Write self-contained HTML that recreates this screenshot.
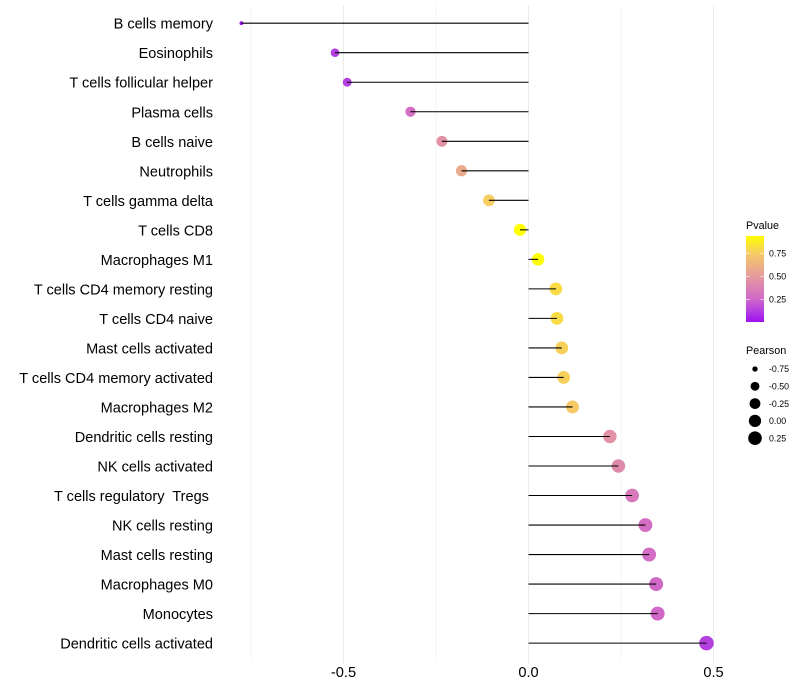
<!DOCTYPE html>
<html lang="en">
<head>
<meta charset="utf-8">
<title>Pearson lollipop chart</title>
<style>
html,body{margin:0;padding:0;background:#fff;}
svg{display:block;font-family:"Liberation Sans",sans-serif;}
</style>
</head>
<body>
<svg id="chart" width="800" height="700" viewBox="0 0 800 700" xmlns="http://www.w3.org/2000/svg">
  <defs>
    <linearGradient id="pvalue-gradient" x1="0" y1="1" x2="0" y2="0">
      <stop offset="0" stop-color="#A010F0"/>
      <stop offset="0.133" stop-color="#B540E0"/>
      <stop offset="0.266" stop-color="#D068C8"/>
      <stop offset="0.532" stop-color="#E59A9E"/>
      <stop offset="0.798" stop-color="#F6CB66"/>
      <stop offset="1" stop-color="#FFFF00"/>
    </linearGradient>
  </defs>
  <g id="grid"></g>
  <g id="marks"></g>
  <g id="y-axis"></g>
  <g id="x-axis"></g>
  <g id="legend-p">
    <text x="746" y="229" font-size="10.8" fill="#000">Pvalue</text>
    <rect x="746" y="236" width="18" height="86" fill="url(#pvalue-gradient)"/>
  </g>
  <g id="legend-s">
    <text x="746" y="354" font-size="10.8" fill="#000">Pearson</text>
  </g>
</svg>
<script>
const categories = ["B cells memory","Eosinophils","T cells follicular helper","Plasma cells","B cells naive","Neutrophils","T cells gamma delta","T cells CD8","Macrophages M1","T cells CD4 memory resting","T cells CD4 naive","Mast cells activated","T cells CD4 memory activated","Macrophages M2","Dendritic cells resting","NK cells activated","T cells regulatory  Tregs ","NK cells resting","Mast cells resting","Macrophages M0","Monocytes","Dendritic cells activated"];
const pearson = [-0.776,-0.523,-0.490,-0.319,-0.234,-0.181,-0.107,-0.023,0.026,0.074,0.077,0.090,0.095,0.119,0.220,0.243,0.280,0.316,0.326,0.345,0.349,0.481];
const pvalue = [0.001,0.125,0.125,0.29,0.46,0.58,0.76,0.94,0.94,0.81,0.81,0.77,0.77,0.74,0.46,0.42,0.34,0.28,0.27,0.25,0.25,0.125];
const xTicks = [-0.5,0.0,0.5];
const xMinorTicks = [-0.75,-0.25,0.25];
const colorTicks = [0.25,0.50,0.75];
const sizeTicks = [-0.75,-0.50,-0.25,0.00,0.25];

const svg = "http://www.w3.org/2000/svg";
const gridG = document.getElementById("grid");
const marksG = document.getElementById("marks");
const yG = document.getElementById("y-axis");
const xG = document.getElementById("x-axis");
const legP = document.getElementById("legend-p");
const legS = document.getElementById("legend-s");

function make(tag, attrs, parent, text){
  const el = document.createElementNS(svg, tag);
  for (const k in attrs) el.setAttribute(k, attrs[k]);
  if (text !== undefined) el.textContent = text;
  parent.appendChild(el);
  return el;
}
function xScale(v){ return 528.5 + v * 370; }
function yScale(i){ return 23.2 + i * 29.52; }
function colorY(p){ return 322.5 - p * 92; }
const minP = Math.min(...pearson), maxP = Math.max(...pearson);
function radius(v){
  const t = Math.max(0, (v - minP) / (maxP - minP));
  return 1.9 + 5.4 * Math.sqrt(t);
}
const colorStops = [[0,[160,16,240]],[0.125,[181,64,224]],[0.25,[208,104,200]],[0.5,[229,154,158]],[0.75,[246,203,102]],[0.94,[255,255,0]]];
function color(p){
  for (let i = 1; i < colorStops.length; i++){
    if (p <= colorStops[i][0]){
      const a = colorStops[i-1], b = colorStops[i];
      const t = Math.max(0, (p - a[0]) / (b[0] - a[0]));
      return "rgb(" + a[1].map((c, j) => Math.round(c + (b[1][j] - c) * t)).join(",") + ")";
    }
  }
  return "rgb(255,255,0)";
}

xMinorTicks.forEach(function(v){
  const g = make("line", {x1:xScale(v), x2:xScale(v), y1:5.5, y2:660.5, stroke:"#F2F2F2", "stroke-width":0.8}, gridG);
  
  
});
xTicks.forEach(function(v){
  const g = make("line", {x1:xScale(v), x2:xScale(v), y1:5.5, y2:663, stroke:"#EBEBEB", "stroke-width":1}, gridG);
  
  
  const t = make("text", {x:xScale(v), y:677, "text-anchor":"middle", "font-size":14.6, fill:"#000"}, xG, v.toFixed(1));
  
  
});

categories.forEach(function(name, i){
  const y = yScale(i), x = xScale(pearson[i]);
  const c = make("circle", {cx:x, cy:y, r:radius(pearson[i]), fill:color(pvalue[i])}, marksG);
  
  
  const l = make("line", {x1:xScale(0), x2:x, y1:y, y2:y, stroke:"#000", "stroke-width":1.07}, marksG);
  
  
  const t = make("text", {x:213, y:y + 5.5, "text-anchor":"end", "font-size":14.55, fill:"#000"}, yG, name);
  t.setAttribute("xml:space", "preserve");
  t.style.whiteSpace = "pre";
  
  
});

colorTicks.forEach(function(p){
  const y = colorY(p);
  const a = make("line", {x1:746, x2:749.6, y1:y, y2:y, stroke:"#fff", "stroke-width":0.6}, legP);
  
  
  const b = make("line", {x1:760.4, x2:764, y1:y, y2:y, stroke:"#fff", "stroke-width":0.6}, legP);
  
  
  const t = make("text", {x:769, y:y + 3.2, "font-size":8.8, fill:"#000"}, legP, p.toFixed(2));
  
  
});

sizeTicks.forEach(function(v, i){
  const y = 369 + i * 17.3;
  const c = make("circle", {cx:755, cy:y, r:radius(v), fill:"#000"}, legS);
  
  
  const t = make("text", {x:769, y:y + 3.2, "font-size":8.8, fill:"#000"}, legS, v.toFixed(2));
  
  
});
</script>
</body>
</html>
